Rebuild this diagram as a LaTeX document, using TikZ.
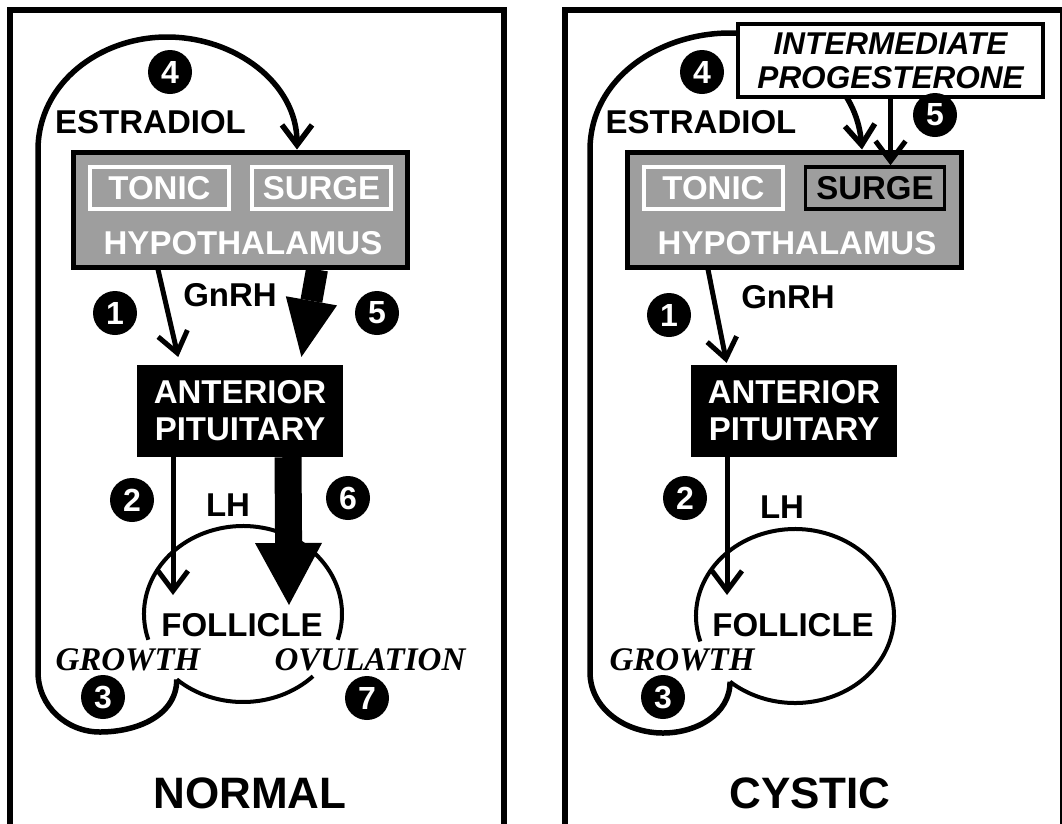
\documentclass[tikz,border=0pt]{standalone}
\usepackage{fontspec}
\setmainfont{Liberation Sans}
\newfontfamily\timesfont{Liberation Serif}
\usepackage{tikz}
\usetikzlibrary{positioning, calc, arrows.meta}

\definecolor{hypogray}{gray}{0.62}

\tikzset{
  frame/.style={line width=6pt},
  hypo/.style={draw, line width=5pt, fill=hypogray, minimum width=334pt, minimum height=115pt, inner sep=0pt},
  subbox/.style={draw, line width=3.5pt, minimum width=139pt, minimum height=42pt, inner sep=0pt, font=\fontsize{33}{36}\selectfont\bfseries},
  pitu/.style={fill=black, text=white, minimum width=206pt, minimum height=92pt, inner sep=0pt, align=center, font=\fontsize{33}{37}\selectfont\bfseries},
  lbl/.style={inner sep=0pt, font=\fontsize{33}{36}\selectfont\bfseries},
  stage/.style={inner sep=0pt, font=\timesfont\bfseries\itshape\fontsize{33}{36}\selectfont},
  title/.style={inner sep=0pt, font=\fontsize{44}{48}\selectfont\bfseries},
  stepnum/.style={circle, fill=black, text=white, minimum size=44pt, inner sep=0pt, font=\fontsize{32}{34}\selectfont\bfseries},
  thinarrow/.style={line width=5pt, -{Straight Barb[length=20pt, width=30pt]}},
  fbloop/.style={line width=5.5pt, -{Straight Barb[length=20pt, width=30pt]}},
  fatarrow/.style n args={3}{line width=#1, -{Triangle[length=#2, width=#3, line width=0pt]}},
  folline/.style={line width=4pt}
}

\begin{document}
\begin{tikzpicture}[x=1pt, y=1pt]
  \useasboundingbox (0,0) rectangle (1062,-823);

  % panel frames, open at the bottom
  \draw[frame] (10,-830) -- (10,-10) -- (504,-10) -- (504,-830);
  \draw[frame] (565,-830) -- (565,-10) -- (1063,-10) -- (1063,-830);

  % ---------- normal cycle ----------
  \node[hypo] (hypoN) at (240,-209.5) {};
  \node[subbox, draw=white, text=white] (tonicN) at (159.5,-188) {TONIC};
  \node[subbox, draw=white, text=white] (surgeN) at (321.5,-188) {SURGE};
  \node[lbl, text=white] (hypotxtN) at (243,-243) {HYPOTHALAMUS};
  \node[pitu] (apN) at (240,-411) {ANTERIOR\\PITUITARY};

  % follicle, open for growth and ovulation
  \coordinate (follN) at (243,-614);
  \draw[folline] (follN) ++(197:99 and 88) arc[start angle=197, end angle=-17, x radius=99, y radius=88];
  \draw[folline] (follN) ++(-45:99 and 88) arc[start angle=-45, end angle=-132, x radius=99, y radius=88] coordinate (cuspN);
  \coordinate (lhN) at (173,-595);
  \coordinate (ovN) at (289,-605);

  % estradiol feedback loop
  \draw[fbloop] (cuspN) to[out=-90, in=0] (100,-732) to[out=180, in=-90] (38,-672)
    -- (38,-150) to[out=90, in=180] (167,-37) to[out=0, in=90] ([xshift=57pt]hypoN.north);

  % hormone arrows
  \draw[thinarrow, shorten >=8pt] ([xshift=-82pt]hypoN.south) -- ([xshift=-60pt]apN.north);
  \draw[fatarrow={22pt}{57pt}{52pt}, shorten >=8pt] ([xshift=77pt]hypoN.south) -- ([xshift=60pt]apN.north);
  \draw[thinarrow] ([xshift=-67pt]apN.south) -- (lhN);
  \draw[fatarrow={27pt}{62pt}{67pt}] ([xshift=48pt]apN.south) -- (ovN);

  \node[lbl] (estN) at (150.5,-122) {ESTRADIOL};
  \node[lbl] (gnrhN) at (230,-295) {GnRH};
  \node[lbl] (lhtxtN) at (228,-505) {LH};
  \node[lbl] (follicleN) at (242,-625) {FOLLICLE};
  \node[stage] (growN) at (128,-660) {GROWTH};
  \node[stage] (ovulN) at (370,-660) {OVULATION};
  \node[title] (normal) at (250,-793) {NORMAL};

  \foreach \n/\x/\y in {4/170/-72, 1/115/-313, 5/377/-313, 2/132/-500, 6/348/-498, 3/103/-697, 7/367/-698}
    \node[stepnum] (sN\n) at (\x,\y) {\n};

  % ---------- cystic ----------
  \begin{scope}[xshift=554pt]
    \node[hypo] (hypoC) at (240,-209.5) {};
    \node[subbox, draw=white, text=white] (tonicC) at (159.5,-188) {TONIC};
    \node[subbox, draw=black] (surgeC) at (321,-188) {SURGE};
    \node[lbl, text=white] (hypotxtC) at (243,-243) {HYPOTHALAMUS};
    \node[pitu] (apC) at (240,-411) {ANTERIOR\\PITUITARY};

    % follicle, open for growth only
    \coordinate (follC) at (241,-616);
    \draw[folline] (follC) ++(197:99 and 87) arc[start angle=197, end angle=-131, x radius=99, y radius=87] coordinate (cuspC);
    \coordinate (lhC) at (173,-595);

    % estradiol loop runs behind the progesterone box
    \draw[fbloop] (cuspC) to[out=-90, in=0] (109,-733) to[out=180, in=-90] (36,-672)
      -- (36,-150) to[out=90, in=180] (176,-33) -- (195,-33) to[out=-15, in=95] ([xshift=68pt]hypoC.north);
    \node[draw, line width=4pt, fill=white, minimum width=305pt, minimum height=73pt, inner sep=0pt,
      align=center, font=\fontsize{31.5}{34}\selectfont\bfseries\itshape] (progC) at (336.5,-60.5)
      {INTERMEDIATE\\PROGESTERONE};
    \draw[thinarrow] (progC.south) -- (progC.south |- surgeC.north);

    \draw[thinarrow, shorten >=2pt] ([xshift=-86pt]hypoC.south) -- ([xshift=-67pt]apC.north);
    \draw[thinarrow] ([xshift=-67pt]apC.south) -- (lhC);

    \node[lbl] (estC) at (147,-122) {ESTRADIOL};
    \node[lbl] (gnrhC) at (234,-297) {GnRH};
    \node[lbl] (lhtxtC) at (228,-507) {LH};
    \node[lbl] (follicleC) at (239,-625) {FOLLICLE};
    \node[stage] (growC) at (128,-660) {GROWTH};
    \node[title] (cystic) at (256,-793) {CYSTIC};

    \foreach \n/\x/\y in {4/148/-72, 5/381/-115, 1/115/-315, 2/131/-498, 3/109/-697}
      \node[stepnum] (sC\n) at (\x,\y) {\n};
  \end{scope}
\end{tikzpicture}
\end{document}
